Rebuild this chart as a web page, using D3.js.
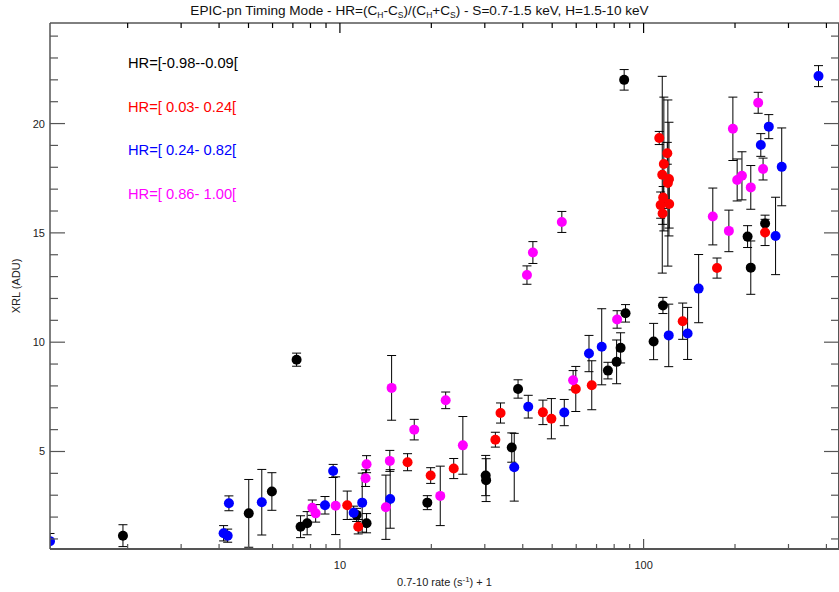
<!DOCTYPE html>
<html lang="en">
<head>
    <meta charset="UTF-8">
    <title>EPIC-pn Timing Mode XRL vs rate</title>
    <script src="https://d3js.org/d3.v7.min.js"></script>
    <style>
        body { margin: 0; background: #fff; }
        text { font-family: "Liberation Sans", Arial, Helvetica, sans-serif; }
    </style>
</head>
<body>
<div id="chart"></div>
<script>
    // Data: x = 0.7-10 rate + 1, y = XRL (ADU), e = y error
    var blackX = [1.93, 5.01, 5.97, 7.20, 7.42, 7.80, 11.35, 12.24, 19.4, 30.2, 30.3, 36.8, 38.6, 76.3, 81.5, 84.0, 87.2, 86.3, 107.9, 115.8, 220, 225.4, 251.2];
    var blackY = [1.15, 2.17, 3.17, 9.2, 1.56, 1.72, 2.1, 1.72, 2.66, 3.9, 3.69, 5.18, 7.86, 8.7, 9.1, 9.74, 11.32, 22.0, 10.03, 11.68, 14.83, 13.41, 15.43];
    var blackE = [0.5, 1.55, 0.86, 0.3, 0.5, 0.53, 0.3, 0.44, 0.32, 0.92, 0.98, 0.67, 0.42, 0.38, 1.0, 0.69, 0.4, 0.47, 0.83, 0.37, 0.5, 1.22, 0.38];

    var redX = [10.57, 11.49, 16.7, 19.9, 23.7, 32.5, 33.8, 46.6, 49.7, 59.8, 67.5, 134.5, 174.5, 251.2,
                112.6, 119.7, 116.6, 115.2, 121.2, 120.2, 116.0, 113.8, 121.4, 115.5];
    var redY = [2.54, 1.56, 4.51, 3.9, 4.22, 5.54, 6.76, 6.79, 6.5, 7.86, 8.03, 10.96, 13.39, 15.02,
                19.34, 18.64, 18.15, 17.66, 17.46, 17.28, 16.62, 16.27, 16.32, 15.89];
    var redE = [0.65, 0.33, 0.39, 0.36, 0.46, 0.34, 0.46, 0.56, 0.92, 1.03, 1.12, 0.83, 0.46, 0.6,
                0.3, 0.5, 3.06, 4.5, 2.6, 3.8, 0.5, 0.6, 1.1, 0.5];

    var blueX = [1.11, 4.14, 4.27, 4.31, 5.53, 8.93, 9.50, 11.1, 11.84, 14.64, 37.5, 41.7, 54.8, 66.1, 72.8, 121, 139.6, 151.8, 243.2, 258.4, 272, 285, 376.7];
    var blueY = [0.90, 1.26, 1.15, 2.63, 2.68, 2.54, 4.11, 2.2, 2.66, 2.83, 4.28, 7.05, 6.78, 9.48, 9.79, 10.31, 10.4, 12.45, 19.02, 19.86, 14.86, 18.02, 22.17];
    var blueE = [0.35, 0.35, 0.3, 0.34, 1.5, 0.4, 0.3, 0.3, 1.35, 1.34, 1.55, 0.52, 0.6, 0.83, 1.74, 1.43, 1.19, 1.56, 0.52, 0.55, 1.77, 1.78, 0.48];

    var magentaX = [8.11, 8.32, 9.68, 12.15, 12.24, 14.17, 14.6, 14.8, 17.57, 21.4, 22.3, 25.4, 41.3, 43.2, 53.8, 58.6, 81.8, 169, 190.9, 196.8, 203.3, 210.8, 225.4, 238.4, 247.4];
    var magentaY = [2.43, 2.17, 2.52, 3.78, 4.42, 2.45, 4.57, 7.91, 6.0, 2.97, 7.34, 5.28, 13.07, 14.1, 15.5, 8.26, 11.04, 15.75, 15.09, 19.76, 17.42, 17.61, 17.08, 20.95, 17.92];
    var magentaE = [0.35, 0.4, 1.32, 0.38, 0.39, 1.47, 0.48, 1.48, 0.47, 1.36, 0.38, 1.32, 0.42, 0.5, 0.48, 0.44, 0.4, 1.3, 0.95, 1.45, 0.96, 1.1, 1.0, 0.48, 0.5];

    var legendLabels = ["HR=[-0.98--0.09[", "HR=[ 0.03- 0.24[", "HR=[ 0.24- 0.82[", "HR=[ 0.86- 1.00["];
    var xTicks = [10, 100];
    var yTicks = [5, 10, 15, 20];

    var groups = [
        {x: blackX, y: blackY, e: blackE, color: "#000000"},
        {x: redX, y: redY, e: redE, color: "#ff0000"},
        {x: blueX, y: blueY, e: blueE, color: "#0000ff"},
        {x: magentaX, y: magentaY, e: magentaE, color: "#ff00ff"}
    ];

    var W = 839, H = 592;
    var m = {left: 50, right: 839, top: 23, bottom: 549};
    var axisColor = "#555";

    var svg = d3.select("#chart").append("svg")
                .attr("width", W)
                .attr("height", H);

    var x = d3.scaleLog().domain([1.11, 440]).range([m.left, m.right]);
    var y = d3.scaleLinear().domain([0.54, 24.6]).range([m.bottom, m.top]);

    // minor ticks on the log axis
    var xMinor = [];
    [1, 10, 100].forEach(function(dec) {
        for (var k = 2; k <= 9; k++) {
            var v = dec * k;
            if (v > 1.11 && v < 440) xMinor.push(v);
        }
    });
    var yMinor = d3.range(1, 25).filter(function(v) { return v % 5 !== 0; });

    svg.append("defs").append("clipPath").attr("id", "plotclip")
       .append("rect")
       .attr("x", m.left).attr("y", m.top)
       .attr("width", m.right - m.left).attr("height", m.bottom - m.top);

    // error bars and points
    var plot = svg.append("g").attr("clip-path", "url(#plotclip)");
    var cap = 4.5;

    groups.forEach(function(g) {
        var pts = g.x.map(function(xv, i) { return {x: xv, y: g.y[i], e: g.e[i]}; });

        plot.append("g")
            .attr("stroke", "#000")
            .attr("stroke-width", 1)
            .attr("fill", "none")
            .selectAll("path")
            .data(pts)
            .enter().append("path")
            .attr("d", function(d) {
                var px = x(d.x), y0 = y(d.y - d.e), y1 = y(d.y + d.e);
                return "M" + px + "," + y0 + "V" + y1 +
                       "M" + (px - cap) + "," + y1 + "H" + (px + cap) +
                       "M" + (px - cap) + "," + y0 + "H" + (px + cap);
            });
    });

    groups.forEach(function(g) {
        var pts = g.x.map(function(xv, i) { return {x: xv, y: g.y[i]}; });
        plot.append("g").selectAll("circle")
            .data(pts)
            .enter().append("circle")
            .attr("cx", function(d) { return x(d.x); })
            .attr("cy", function(d) { return y(d.y); })
            .attr("r", 5)
            .attr("fill", g.color);
    });

    // frame
    var frame = svg.append("g").attr("stroke", axisColor).attr("fill", "none");
    frame.append("line").attr("x1", m.left).attr("x2", m.right).attr("y1", m.bottom).attr("y2", m.bottom).attr("stroke-width", 2);
    frame.append("line").attr("x1", m.left).attr("x2", m.right).attr("y1", m.top).attr("y2", m.top).attr("stroke", "#000").attr("stroke-width", 1);
    frame.append("line").attr("x1", m.left).attr("x2", m.left).attr("y1", m.top).attr("y2", m.bottom).attr("stroke-width", 1.5);
    frame.append("line").attr("x1", m.right - 0.5).attr("x2", m.right - 0.5).attr("y1", m.top).attr("y2", m.bottom).attr("stroke-width", 1);

    // x ticks, bottom and top
    var xt = svg.append("g").attr("stroke", axisColor).attr("stroke-width", 1.2);
    xTicks.forEach(function(v) {
        xt.append("line").attr("x1", x(v)).attr("x2", x(v)).attr("y1", m.bottom).attr("y2", m.bottom - 10);
        xt.append("line").attr("x1", x(v)).attr("x2", x(v)).attr("y1", m.top).attr("y2", m.top + 10).attr("stroke", "#000");
    });
    xMinor.forEach(function(v) {
        xt.append("line").attr("x1", x(v)).attr("x2", x(v)).attr("y1", m.bottom).attr("y2", m.bottom - 5);
        xt.append("line").attr("x1", x(v)).attr("x2", x(v)).attr("y1", m.top).attr("y2", m.top + 5).attr("stroke", "#000");
    });

    // y ticks, left and right
    var yt = svg.append("g").attr("stroke", axisColor).attr("stroke-width", 1.2);
    yTicks.forEach(function(v) {
        yt.append("line").attr("x1", m.left).attr("x2", m.left + 15).attr("y1", y(v)).attr("y2", y(v));
        yt.append("line").attr("x1", m.right).attr("x2", m.right - 15).attr("y1", y(v)).attr("y2", y(v));
    });
    yMinor.forEach(function(v) {
        yt.append("line").attr("x1", m.left).attr("x2", m.left + 8).attr("y1", y(v)).attr("y2", y(v));
        yt.append("line").attr("x1", m.right).attr("x2", m.right - 8).attr("y1", y(v)).attr("y2", y(v));
    });

    // tick labels
    svg.append("g").selectAll("text")
       .data(xTicks)
       .enter().append("text")
       .attr("x", function(d) { return x(d); })
       .attr("y", 569)
       .attr("text-anchor", "middle")
       .style("font-size", "11px")
       .attr("fill", "#222")
       .text(function(d) { return d; });

    svg.append("g").selectAll("text")
       .data(yTicks)
       .enter().append("text")
       .attr("x", 45)
       .attr("y", function(d) { return y(d) + 4; })
       .attr("text-anchor", "end")
       .style("font-size", "11px")
       .attr("fill", "#222")
       .text(function(d) { return d; });

    // axis titles
    var xTitle = svg.append("text")
       .attr("x", (m.left + m.right) / 2)
       .attr("y", 586)
       .attr("text-anchor", "middle")
       .style("font-size", "11px")
       .attr("fill", "#222");
    xTitle.append("tspan").text("0.7-10 rate (s");
    xTitle.append("tspan").attr("dy", -4).style("font-size", "8px").text("-1");
    xTitle.append("tspan").attr("dy", 4).text(") + 1");

    svg.append("text")
       .attr("transform", "translate(20," + ((m.top + m.bottom) / 2) + ") rotate(-90)")
       .attr("text-anchor", "middle")
       .style("font-size", "11px")
       .attr("fill", "#222")
       .text("XRL (ADU)");

    // title with subscripts
    var title = svg.append("text")
       .attr("x", W / 2)
       .attr("y", 15)
       .attr("text-anchor", "middle")
       .style("font-size", "13.6px")
       .attr("fill", "#111");
    var parts = [["EPIC-pn Timing Mode - HR=(C", 0], ["H", 1], ["-C", 0], ["S", 1], [")/(C", 0], ["H", 1],
                 ["+C", 0], ["S", 1], [") - S=0.7-1.5 keV, H=1.5-10 keV", 0]];
    var prevSub = 0;
    parts.forEach(function(p) {
        var shift = (p[1] - prevSub) * 3;
        title.append("tspan")
             .attr("dy", shift)
             .style("font-size", p[1] ? "8.5px" : "13.6px")
             .text(p[0]);
        prevSub = p[1];
    });

    // legend
    svg.append("g").selectAll("text")
       .data(legendLabels)
       .enter().append("text")
       .attr("x", 128)
       .attr("y", function(d, i) { return 68 + i * 43.6; })
       .style("font-size", "14.7px")
       .attr("fill", function(d, i) { return groups[i].color; })
       .text(function(d) { return d; });
</script>
</body>
</html>
